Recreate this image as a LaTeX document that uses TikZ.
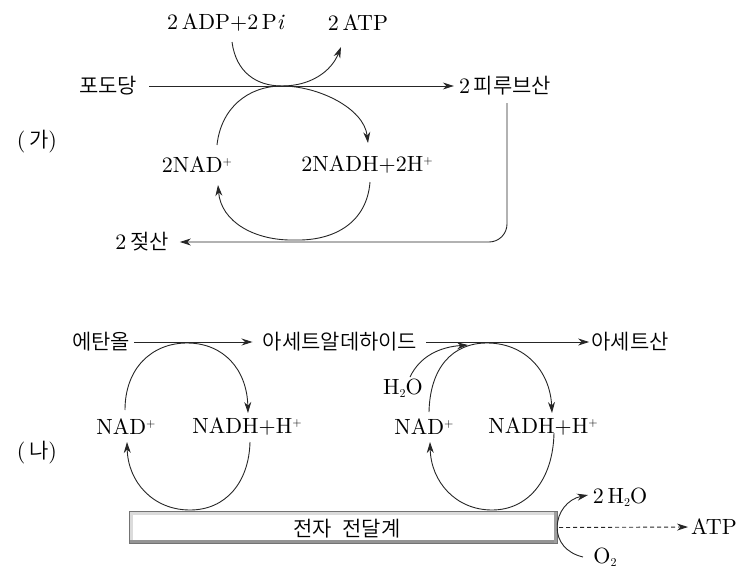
\documentclass[tikz,border=0pt]{standalone}
\usepackage{fontspec}
\setmainfont{lmroman10-regular.otf}[ItalicFont=lmroman10-italic.otf]
\newfontfamily\kr{Noto Sans CJK KR DemiLight}
\usetikzlibrary{arrows.meta}
\newcommand\krtext[1]{{\fontsize{21pt}{25pt}\selectfont\kr #1}}
\newcommand\supp[1]{\raisebox{0.8ex}{\fontsize{12pt}{12pt}\selectfont #1}}
\newcommand\subb[1]{\raisebox{-0.35ex}{\fontsize{12pt}{12pt}\selectfont #1}}
\tikzset{
  lat/.style={font=\fontsize{22pt}{26pt}\selectfont, inner sep=1pt},
  kor/.style={font=\fontsize{21pt}{25pt}\selectfont\kr, inner sep=1pt},
  ln/.style={line width=0.9pt, draw=black!85},
  arr/.style={ln, -{Stealth[length=11pt,width=7pt,inset=3.5pt]}},
  etsbox/.style={fill=white, minimum width=427pt, minimum height=31pt, inner sep=0pt},
}
\begin{document}
\begin{tikzpicture}[x=1pt,y=-1pt]
\useasboundingbox (0,0) rectangle (755,570);
% ---------- (ga)
\node[lat] (ga) at (37,142) {(\,\krtext{가})};
\node[lat] (adp) at (226,23) {2\,ADP+2\,P\textit{i}};
\node[lat] (atp) at (358,23) {2\,ATP};
\node[kor] (glc) at (108,86) {포도당};
\node[lat] (pyr) at (505,86) {2\,\krtext{피루브산}};
\node[lat] (nad1) at (197,165) {2NAD\supp{+}};
\node[lat] (nadh1) at (367,165) {2NADH+2H\supp{+}};
\node[lat] (lac) at (142,242) {2\,\krtext{젖산}};

\coordinate (t1) at (282,86);
\coordinate (a1s) at (232,42);
\coordinate (a1e) at (341,47);
\coordinate (c1s) at (217,145);
\coordinate (c1e) at (368,143);
\coordinate (d1s) at (370,182);
\coordinate (b1) at (295,240);
\coordinate (d1e) at (218,185);
\coordinate (r1) at (507,103);

\draw[arr, shorten <=11pt, shorten >=4pt] (glc.east) -- (glc.east -| pyr.west);
\draw[arr] (a1s) .. controls (236,72) and (256,86) .. (t1) .. controls (310,86) and (331,72) .. (a1e);
\draw[arr] (c1s) .. controls (221,108) and (248,86) .. (t1) .. controls (318,86) and (364,108) .. (c1e);
\draw[arr] (d1s) .. controls (367,222) and (335,241) .. (b1) .. controls (255,241) and (221,222) .. (d1e);
\draw[arr, rounded corners=18pt, shorten >=10pt] (r1) |- (lac.east);

% ---------- (na)
\node[lat] (na) at (37,453) {(\,\krtext{나})};
\node[kor] (eth) at (101,342) {에탄올};
\node[kor] (ald) at (340,342) {아세트알데하이드};
\node[kor] (ace) at (630,342) {아세트산};
\node[lat] (nad2) at (126,427) {NAD\supp{+}};
\node[lat] (nadh2) at (247,427) {NADH+H\supp{+}};
\node[lat] (nad3) at (424,427) {NAD\supp{+}};
\node[lat] (nadh3) at (543,427) {NADH+H\supp{+}};
\node[lat] (h2o) at (403,388) {H\subb{2}O};

\coordinate (t2) at (187,343);
\coordinate (t3) at (487,343);
\coordinate (e1s) at (125,410);
\coordinate (e1e) at (248,413);
\coordinate (f1s) at (250,442);
\coordinate (b2) at (190,510);
\coordinate (f1e) at (127,442);
\coordinate (g1s) at (429,412);
\coordinate (g1e) at (552,413);
\coordinate (h1s) at (554,433);
\coordinate (b3) at (492,510);
\coordinate (h1e) at (430,442);
\coordinate (w1s) at (410,377);
\coordinate (w1e) at (468,345);

\draw[arr, shorten <=3pt, shorten >=9pt] (eth.east) -- (eth.east -| ald.west);
\draw[arr, shorten <=8pt, shorten >=1pt] (ald.east) -- (ald.east -| ace.west);

\draw[arr] (e1s) .. controls (125,368) and (152,343) .. (t2) .. controls (224,343) and (247,370) .. (e1e);
\draw[arr] (f1s) .. controls (249,482) and (226,510) .. (b2) .. controls (153,510) and (128,482) .. (f1e);
\draw[arr] (g1s) .. controls (430,368) and (452,343) .. (t3) .. controls (524,343) and (550,370) .. (g1e);
\draw[arr] (h1s) .. controls (553,480) and (528,510) .. (b3) .. controls (456,510) and (431,482) .. (h1e);
\draw[arr] (w1s) .. controls (420,356) and (440,347) .. (w1e);

% electron transport chain box (bevelled)
\node[etsbox] (ets) at (343.5,527.5) {};
\draw[black!14, line width=3pt] ([shift={(0.5pt,-2pt)}]ets.north west) -- ([shift={(-0.5pt,-2pt)}]ets.north east);
\draw[black!14, line width=3pt] ([shift={(2pt,-0.5pt)}]ets.north west) -- ([shift={(2pt,0.5pt)}]ets.south west);
\draw[black!42, line width=3pt] ([shift={(0.5pt,2pt)}]ets.south west) -- ([shift={(-0.5pt,2pt)}]ets.south east);
\draw[black!38, line width=3pt] ([shift={(-2pt,-0.5pt)}]ets.north east) -- ([shift={(-2pt,0.5pt)}]ets.south east);
\draw[black!55, line width=1pt] (ets.north west) rectangle (ets.south east);
\node[kor] (etstext) at (347,529) {전자\hspace{0.5em}전달계};

\node[lat] (h2o2) at (620,497) {2\,H\subb{2}O};
\node[lat] (atp2) at (714,527) {ATP};
\node[lat] (o2) at (605,557) {O\subb{2}};
\coordinate (o2s) at (583,557);
\coordinate (h2e) at (588,495);
\draw[arr] (o2s) .. controls (566,553) and (557,541) .. (ets.east) .. controls (557,512) and (568,499) .. (h2e);
\draw[arr, dash pattern=on 4pt off 3pt, shorten <=2pt, shorten >=2pt] (ets.east) -- (atp2.west);
\end{tikzpicture}
\end{document}
